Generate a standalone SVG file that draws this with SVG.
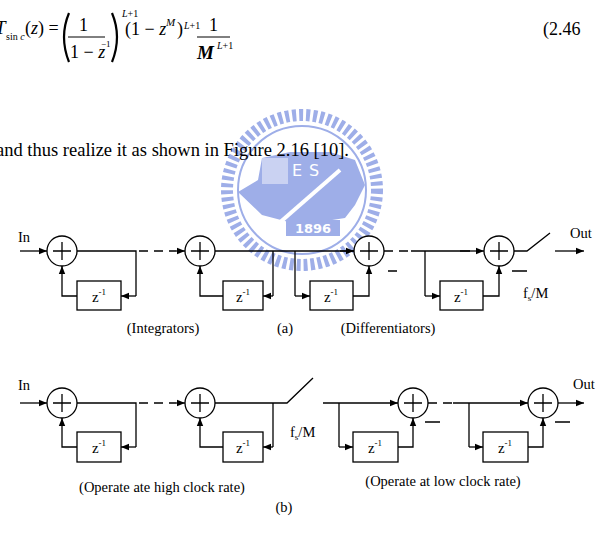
<svg xmlns="http://www.w3.org/2000/svg" width="605" height="534" viewBox="0 0 605 534">
<defs>
<marker id="ah" viewBox="0 0 10 10" refX="10" refY="5" markerWidth="8" markerHeight="8" markerUnits="userSpaceOnUse" orient="auto"><path d="M0,1 L10,5 L0,9 z" fill="#000"/></marker>
<style>
text{font-family:"Liberation Serif","Times New Roman",serif;fill:#000}
.ln{stroke:#000;stroke-width:1.3;fill:none}
.ar{stroke:#000;stroke-width:1.3;fill:none;marker-end:url(#ah)}
.ds{stroke:#000;stroke-width:1.3;fill:none;stroke-dasharray:9,6}
.sum circle{fill:#fff;stroke:#000;stroke-width:1.3}
.sum path{stroke:#000;stroke-width:1.3}
.dl rect{fill:#fff;stroke:#000;stroke-width:1.3}
.dl text{font-size:15px;text-anchor:middle}
.lb{font-size:14.5px}
.wm{fill:#9eaee8}
</style>
</defs>
<rect width="605" height="534" fill="#fff"/>
<!-- watermark -->
<g id="watermark">
<circle cx="302" cy="190" r="75" fill="none" stroke="#9eaee8" stroke-width="12" stroke-dasharray="4,3"/>
<circle cx="302" cy="190" r="64" fill="none" stroke="#9eaee8" stroke-width="2"/>
<path class="wm" d="M238,192 L258,180 L262,158 L290,152 L330,152 L355,160 L365,185 L355,205 L345,218 L300,225 L262,215 Z"/>
<rect x="262" y="158" width="26" height="26" fill="#fff" opacity="0.45"/>
<rect x="286" y="220" width="54" height="16" class="wm"/>
<text x="313" y="233" font-size="13" font-weight="bold" text-anchor="middle" style="fill:#fff;font-family:'DejaVu Sans',sans-serif">1896</text>
<line x1="262" y1="238" x2="340" y2="170" stroke="#fff" stroke-width="4"/>
<text x="292" y="176" font-size="16" style="fill:#fff;font-family:'DejaVu Sans',sans-serif">E</text>
<text x="309" y="176" font-size="16" style="fill:#fff;font-family:'DejaVu Sans',sans-serif">S</text>
</g>
<!-- formula -->
<g id="formula" font-style="italic">
<text x="-5" y="34" font-size="19">T</text>
<text x="6" y="40" font-size="10" font-style="normal">sin <tspan font-style="italic">c</tspan></text>
<text x="25" y="34" font-size="18" font-style="normal">(<tspan font-style="italic">z</tspan>) =</text>
<path d="M69,13 Q59,37 69,62" stroke="#000" stroke-width="2.2" fill="none"/>
<text x="79" y="31" font-size="18" font-style="normal">1</text>
<line x1="68" y1="37" x2="105" y2="37" stroke="#000" stroke-width="1"/>
<text x="70" y="58" font-size="18" font-style="normal">1 − <tspan font-style="italic">z</tspan></text>
<text x="101" y="47" font-size="9" font-style="normal">−1</text>
<path d="M112,13 Q122,37 112,62" stroke="#000" stroke-width="2.2" fill="none"/>
<text x="122" y="17" font-size="10">L<tspan font-style="normal">+1</tspan></text>
<text x="125" y="35" font-size="18" font-style="normal">(1 − <tspan font-style="italic">z</tspan></text>
<text x="166" y="26" font-size="11">M</text>
<text x="177" y="35" font-size="18" font-style="normal">)</text>
<text x="184" y="29" font-size="10">L<tspan font-style="normal">+1</tspan></text>
<text x="209" y="31" font-size="18" font-style="normal">1</text>
<line x1="197" y1="37" x2="230" y2="37" stroke="#000" stroke-width="1"/>
<text x="197" y="59" font-size="19" font-weight="bold">M</text>
<text x="217" y="49" font-size="10">L<tspan font-style="normal">+1</tspan></text>
<text x="543" y="35" font-size="18" font-style="normal">(2.46</text>
</g>
<text x="-4" y="156" font-size="18.5">and thus realize it as shown in Figure 2.16 [10].</text>
<!-- connectors -->
<g id="connectors">
<path class="ar" d="M20,251 H47"/>
<path class="ln" d="M77,251 H136 V296"/>
<path class="ar" d="M136,296 H121"/>
<path class="ar" d="M77,296 H62 V266"/>
<path class="ds" d="M139,251 H176"/>
<path class="ar" d="M176,251 H185"/>
<path class="ln" d="M215,251 H354"/>
<path class="ln" d="M273,251 V296"/>
<path class="ar" d="M273,296 H263"/>
<path class="ar" d="M223,296 H200 V266"/>
<path class="ln" d="M295,251 V296"/>
<path class="ar" d="M295,296 H310"/>
<path class="ar" d="M353,296 H369 V266"/>
<path class="ar" d="M340,251 H354"/>
<path class="ds" d="M384,251 H410"/>
<path class="ln" d="M411,251 H470"/>
<path class="ar" d="M460,251 H484"/>
<path class="ln" d="M425,251 V296"/>
<path class="ar" d="M425,296 H440"/>
<path class="ar" d="M483,296 H499 V266"/>
<path class="ln" d="M514,251 H527 L550,233"/>
<path class="ar" d="M555,251 H584"/>
<path class="ln" d="M388,271 H397 M512,271 H527"/>
<path class="ar" d="M20,403 H47"/>
<path class="ln" d="M77,403 H136 V447"/>
<path class="ar" d="M136,447 H121"/>
<path class="ar" d="M77,447 H62 V418"/>
<path class="ds" d="M139,403 H176"/>
<path class="ar" d="M176,403 H185"/>
<path class="ln" d="M215,403 H287 L313,378"/>
<path class="ln" d="M273,403 V447"/>
<path class="ar" d="M273,447 H263"/>
<path class="ar" d="M223,447 H200 V418"/>
<path class="ar" d="M323,403 H398"/>
<path class="ln" d="M339,403 V447"/>
<path class="ar" d="M339,447 H353"/>
<path class="ar" d="M398,447 H413 V418"/>
<path class="ds" d="M428,403 H452"/>
<path class="ar" d="M453,403 H528"/>
<path class="ln" d="M469,403 V447"/>
<path class="ar" d="M469,447 H483"/>
<path class="ar" d="M528,447 H543 V418"/>
<path class="ar" d="M558,403 H584"/>
<path class="ln" d="M425,422 H440 M555,422 H570"/>
</g>
<g id="a_sum1" class="sum"><circle cx="62" cy="251" r="15"/><path d="M53,251 H71 M62,242 V260"/></g>
<g id="a_sum2" class="sum"><circle cx="200" cy="251" r="15"/><path d="M191,251 H209 M200,242 V260"/></g>
<g id="a_sum3" class="sum"><circle cx="369" cy="251" r="15"/><path d="M360,251 H378 M369,242 V260"/></g>
<g id="a_sum4" class="sum"><circle cx="499" cy="251" r="15"/><path d="M490,251 H508 M499,242 V260"/></g>
<g id="a_d1" class="dl"><rect x="77" y="281" width="44" height="29"/><text x="99" y="302">z<tspan font-size="9" dy="-7">-1</tspan></text></g>
<g id="a_d2" class="dl"><rect x="223" y="281" width="40" height="29"/><text x="243" y="302">z<tspan font-size="9" dy="-7">-1</tspan></text></g>
<g id="a_d3" class="dl"><rect x="310" y="281" width="43" height="29"/><text x="331" y="302">z<tspan font-size="9" dy="-7">-1</tspan></text></g>
<g id="a_d4" class="dl"><rect x="440" y="281" width="43" height="29"/><text x="461" y="302">z<tspan font-size="9" dy="-7">-1</tspan></text></g>
<g id="b_sum1" class="sum"><circle cx="62" cy="403" r="15"/><path d="M53,403 H71 M62,394 V412"/></g>
<g id="b_sum2" class="sum"><circle cx="200" cy="403" r="15"/><path d="M191,403 H209 M200,394 V412"/></g>
<g id="b_sum3" class="sum"><circle cx="413" cy="403" r="15"/><path d="M404,403 H422 M413,394 V412"/></g>
<g id="b_sum4" class="sum"><circle cx="543" cy="403" r="15"/><path d="M534,403 H552 M543,394 V412"/></g>
<g id="b_d1" class="dl"><rect x="77" y="432" width="44" height="30"/><text x="99" y="453">z<tspan font-size="9" dy="-7">-1</tspan></text></g>
<g id="b_d2" class="dl"><rect x="223" y="432" width="40" height="30"/><text x="243" y="453">z<tspan font-size="9" dy="-7">-1</tspan></text></g>
<g id="b_d3" class="dl"><rect x="353" y="432" width="45" height="30"/><text x="375" y="453">z<tspan font-size="9" dy="-7">-1</tspan></text></g>
<g id="b_d4" class="dl"><rect x="483" y="432" width="45" height="30"/><text x="505" y="453">z<tspan font-size="9" dy="-7">-1</tspan></text></g>
<text class="lb" x="18" y="242">In</text>
<text class="lb" x="570" y="238">Out</text>
<text class="lb" x="523" y="298">f<tspan font-size="9" dy="3">s</tspan><tspan dy="-3">/M</tspan></text>
<text class="lb" x="163" y="333" text-anchor="middle">(Integrators)</text>
<text class="lb" x="285" y="333" text-anchor="middle">(a)</text>
<text class="lb" x="388" y="333" text-anchor="middle">(Differentiators)</text>
<text class="lb" x="18" y="390">In</text>
<text class="lb" x="573" y="389">Out</text>
<text class="lb" x="290" y="437">f<tspan font-size="9" dy="3">s</tspan><tspan dy="-3">/M</tspan></text>
<text class="lb" x="162" y="492" text-anchor="middle">(Operate ate high clock rate)</text>
<text class="lb" x="443" y="486" text-anchor="middle">(Operate at low clock rate)</text>
<text class="lb" x="284" y="512" text-anchor="middle">(b)</text>
</svg>
